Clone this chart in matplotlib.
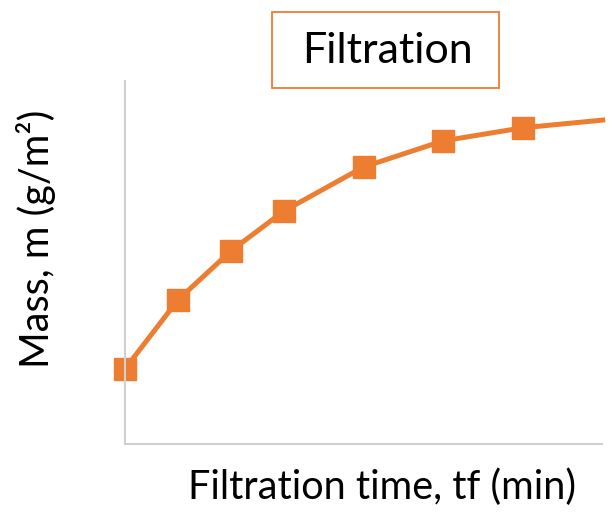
import matplotlib
matplotlib.use("Agg")
import matplotlib.pyplot as plt
from matplotlib.patches import Rectangle

# Data (arbitrary units); the last point is where the
# visible line ends at the right edge (no marker drawn there)
time_min = [0, 1, 2, 3, 4.5, 6, 7.5, 9.06]
mass = [20.7, 39.7, 53.2, 64.2, 76.3, 83.5, 87.1, 89.3]
title_text = "Filtration"
xlabel_text = "Filtration time, tf (min)"
ylabel_text = "Mass, m (g/m²)"

ORANGE = "#ED7D31"
GRAY = "#D0D0D0"
W, H = 615, 520

plt.rcParams['font.family'] = ['Lato', 'DejaVu Sans']
fig = plt.figure(figsize=(W / 100, H / 100), dpi=100)
ax = fig.add_axes([125 / W, 1 - 444 / H, (602 - 125) / W, (444 - 81) / H])
ax.plot(time_min, mass, color=ORANGE, lw=3.6, marker='s', ms=15.5,
        markevery=list(range(len(time_min) - 1)),
        clip_on=False, solid_joinstyle='round', solid_capstyle='butt')
ax.set_xlim(0, 9)
ax.set_ylim(0, 100)
ax.set_xticks([])
ax.set_yticks([])
for s in ['top', 'right']:
    ax.spines[s].set_visible(False)
for s in ['left', 'bottom']:
    ax.spines[s].set_color(GRAY)
    ax.spines[s].set_linewidth(1.5)

# Title box
fig.patches.append(Rectangle((272 / W, 1 - 88 / H), (499 - 272) / W, (88 - 12) / H,
                             transform=fig.transFigure, fill=False,
                             edgecolor=ORANGE, lw=1.3))
fig.text(387 / W, 1 - 51 / H, title_text, ha='center', va='center', fontsize=31)
fig.text(382 / W, 1 - 487 / H, xlabel_text, ha='center', va='center', fontsize=28.5)
fig.text(36 / W, 1 - 239 / H, ylabel_text, ha='center', va='center', fontsize=28.5,
         rotation=90)

fig.savefig("out.png", dpi=100)
